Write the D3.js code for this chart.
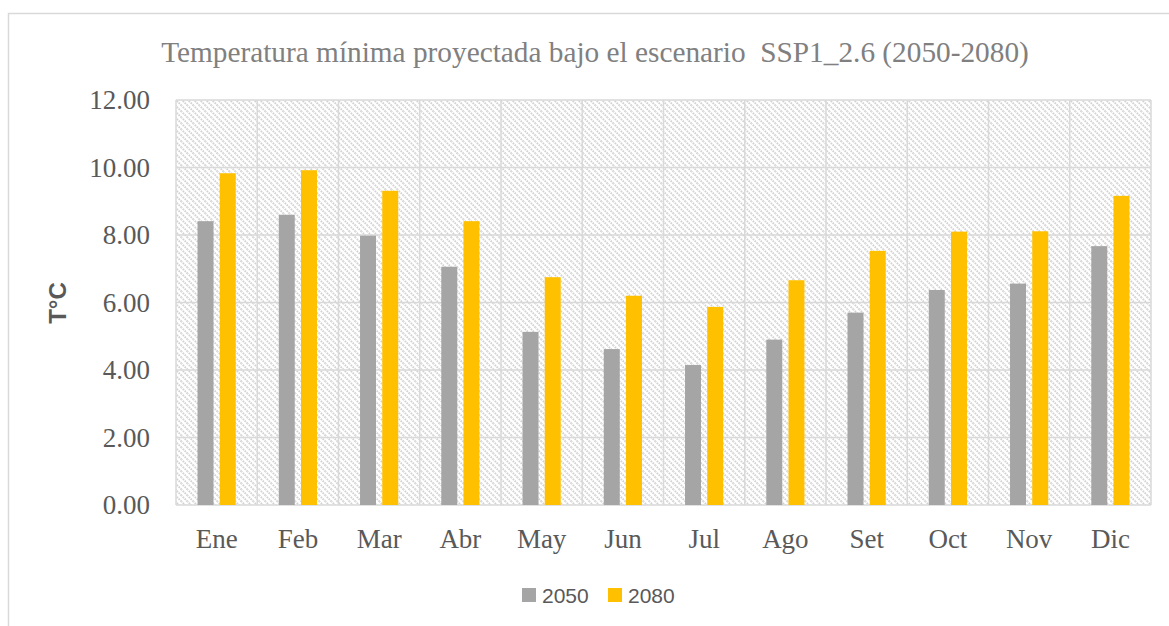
<!DOCTYPE html>
<html>
<head>
<meta charset="utf-8">
<script src="https://cdn.jsdelivr.net/npm/d3@7"></script>
<style>
  body { margin: 0; background: #fff; }
  svg { display: block; }
</style>
</head>
<body>
<svg id="chart" width="1169" height="626"></svg>
<script>
// Months and projected minimum temperature values
const months = ['Ene', 'Feb', 'Mar', 'Abr', 'May', 'Jun', 'Jul', 'Ago', 'Set', 'Oct', 'Nov', 'Dic'];
const series = ['2050', '2080'];
const values2050 = [8.41, 8.60, 7.98, 7.06, 5.13, 4.62, 4.15, 4.90, 5.70, 6.37, 6.56, 7.67];
const values2080 = [9.83, 9.92, 9.31, 8.41, 6.75, 6.20, 5.87, 6.66, 7.53, 8.10, 8.11, 9.16];
const yTicks = [0, 2, 4, 6, 8, 10, 12];

const seriesColors = { '2050': '#A5A5A5', '2080': '#FFC000' };

const data = months.map((m, i) => ({ month: m, '2050': values2050[i], '2080': values2080[i] }));

const svg = d3.select('#chart');
const margin = { top: 100, right: 18, bottom: 121, left: 176 };
const width = 1169 - margin.left - margin.right;
const height = 626 - margin.top - margin.bottom;

// Outer chart border (right/bottom run off the picture)
svg.append('rect')
    .attr('x', 8.5).attr('y', 13.5)
    .attr('width', 1300).attr('height', 800)
    .attr('fill', 'none').attr('stroke', '#d9d9d9').attr('stroke-width', 1.5);

// Hatched plot background
const defs = svg.append('defs');
const pat = defs.append('pattern')
    .attr('id', 'hatch')
    .attr('patternUnits', 'userSpaceOnUse')
    .attr('width', 6).attr('height', 6);
pat.append('rect').attr('width', 6).attr('height', 6).attr('fill', '#fff');
pat.append('path')
    .attr('d', 'M-1,-1 L7,7 M-1,5 L1,7 M5,-1 L7,1')
    .attr('stroke', '#d2d2d2').attr('stroke-width', 1.9).attr('stroke-dasharray', '1.6,1');

const g = svg.append('g').attr('transform', `translate(${margin.left},${margin.top})`);

g.append('rect')
    .attr('width', width).attr('height', height)
    .attr('fill', 'url(#hatch)');

// Scales
const x0 = d3.scaleBand().domain(months).range([0, width]).padding(0);
const x1 = d3.scaleBand().domain(series)
    .range([x0.bandwidth() * 0.265, x0.bandwidth() * 0.735])
    .paddingInner(0.28);
const y = d3.scaleLinear().domain([0, 12]).range([height, 0]);

// Horizontal gridlines
g.append('g')
    .selectAll('line')
    .data(yTicks)
    .join('line')
    .attr('x1', 0).attr('x2', width)
    .attr('y1', d => y(d)).attr('y2', d => y(d))
    .attr('stroke', '#d9d9d9').attr('stroke-width', 1.5);

// Vertical gridlines between categories
g.append('g')
    .selectAll('line')
    .data(d3.range(months.length + 1))
    .join('line')
    .attr('x1', i => i * x0.step()).attr('x2', i => i * x0.step())
    .attr('y1', 0).attr('y2', height)
    .attr('stroke', '#d9d9d9').attr('stroke-width', 1.5);

// Bars
g.append('g')
    .selectAll('g')
    .data(data)
    .join('g')
    .attr('transform', d => `translate(${x0(d.month)},0)`)
    .selectAll('rect')
    .data(d => series.map(s => ({ key: s, value: d[s] })))
    .join('rect')
    .attr('x', d => x1(d.key))
    .attr('y', d => y(d.value))
    .attr('width', x1.bandwidth())
    .attr('height', d => y(0) - y(d.value))
    .attr('fill', d => seriesColors[d.key]);

// Y axis labels
const yAxis = g.append('g')
    .call(d3.axisLeft(y).tickValues(yTicks).tickFormat(d3.format('.2f')).tickSize(0).tickPadding(26));
yAxis.select('.domain').remove();
yAxis.selectAll('text')
    .attr('font-family', '"Liberation Serif", "Times New Roman", serif')
    .attr('font-size', 27)
    .attr('fill', '#595959');

// X axis labels
const xAxis = g.append('g')
    .attr('transform', `translate(0,${height})`)
    .call(d3.axisBottom(x0).tickSize(0).tickPadding(24));
xAxis.select('.domain').remove();
xAxis.selectAll('text')
    .attr('font-family', '"Liberation Serif", "Times New Roman", serif')
    .attr('font-size', 27)
    .attr('fill', '#595959');

// Title
svg.append('text')
    .attr('x', 595).attr('y', 62)
    .attr('text-anchor', 'middle')
    .attr('font-family', '"Liberation Serif", "Times New Roman", serif')
    .attr('font-size', 29.3)
    .attr('fill', '#808080')
    .attr('xml:space', 'preserve')
    .text('Temperatura mínima proyectada bajo el escenario  SSP1_2.6 (2050-2080)');

// Y axis title
svg.append('text')
    .attr('transform', 'translate(66,303) rotate(-90)')
    .attr('text-anchor', 'middle')
    .attr('font-family', '"Liberation Sans", Arial, sans-serif')
    .attr('font-weight', 'bold')
    .attr('font-size', 24)
    .attr('fill', '#595959')
    .text('T°C');

// Legend
const legend = svg.append('g').attr('transform', 'translate(522,588)');
const legendX = [0, 86];
series.forEach((s, i) => {
    const item = legend.append('g').attr('transform', `translate(${legendX[i]},0)`);
    item.append('rect').attr('width', 14).attr('height', 14).attr('fill', seriesColors[s]);
    item.append('text')
        .attr('x', 20).attr('y', 15)
        .attr('font-family', '"Liberation Sans", Arial, sans-serif')
        .attr('font-size', 21)
        .attr('fill', '#595959')
        .text(s);
});
</script>
</body>
</html>
